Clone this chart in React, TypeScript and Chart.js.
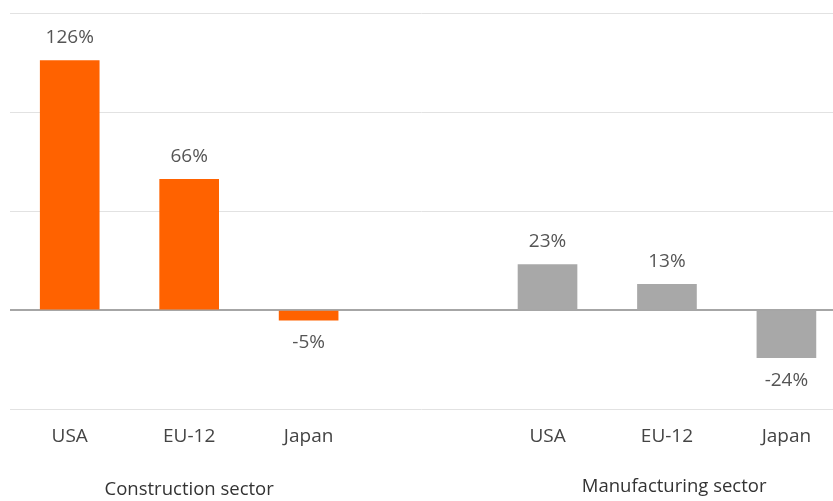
import React, { useEffect, useRef } from "react";
import { Chart, registerables } from "chart.js";

Chart.register(...registerables);

const categories = ["USA", "EU-12", "Japan", "", "USA", "EU-12", "Japan"];
const constructionIdx = [0, 1, 2];
const constructionValues = [126, 66, -5];
const manufacturingIdx = [4, 5, 6];
const manufacturingValues = [23, 13, -24];
const groupLabels = ["Construction sector", "Manufacturing sector"];
const groupCenters = [1, 5.06];
const yMin = -50;
const yMax = 150;
const yStep = 50;

const FONT = "'Open Sans', sans-serif";

export default function App() {
  const ref = useRef<HTMLCanvasElement | null>(null);

  useEffect(() => {
    document.body.style.margin = "0";
    const canvas = ref.current!;
    const labelPlugin = {
      id: "labels",
      afterDatasetsDraw(chart: any) {
        const ctx = chart.ctx;
        ctx.save();
        ctx.font = `19px ${FONT}`;
        ctx.fillStyle = "#555555";
        ctx.textAlign = "center";
        ctx.textBaseline = "middle";
        chart.data.datasets.forEach((ds: any, di: number) => {
          const meta = chart.getDatasetMeta(di);
          meta.data.forEach((bar: any, i: number) => {
            const v = ds.data[i].y;
            const y = v >= 0 ? bar.y - 23 : bar.y + 23;
            ctx.fillText(`${v}%`, bar.x, y);
          });
        });
        const xs = chart.scales.x;
        ctx.font = `18.5px ${FONT}`;
        ctx.fillStyle = "#333333";
        groupLabels.forEach((g, i) => {
          ctx.fillText(g, xs.getPixelForValue(groupCenters[i]), i === 0 ? 490 : 487);
        });
        ctx.restore();
      },
    };

    const chart = new Chart(canvas, {
      type: "bar",
      data: {
        datasets: [
          {
            label: "Construction sector",
            data: constructionIdx.map((x, i) => ({ x, y: constructionValues[i] })),
            backgroundColor: "#FF6200",
            barThickness: 59,
            grouped: false,
          } as any,
          {
            label: "Manufacturing sector",
            data: manufacturingIdx.map((x, i) => ({ x, y: manufacturingValues[i] })),
            backgroundColor: "#A8A8A8",
            barThickness: 59,
            grouped: false,
          } as any,
        ],
      },
      options: {
        animation: false,
        responsive: false,
        maintainAspectRatio: false,
        layout: { padding: { left: 10, right: 0, top: 13, bottom: 37 } },
        plugins: { legend: { display: false }, tooltip: { enabled: false } },
        scales: {
          x: {
            type: "linear",
            offset: false,
            min: -0.5,
            max: 6.39,
            afterBuildTicks: (scale: any) => {
              scale.ticks = categories.map((_, i) => ({ value: i }));
            },
            ticks: {
              autoSkip: false,
              maxRotation: 0,
              padding: 16,
              font: { family: FONT, size: 19 },
              color: "#444444",
              callback: (v: any) => categories[v as number] ?? "",
            },
            grid: { display: false, drawTicks: false },
            border: { display: false },
          },
          y: {
            min: yMin,
            max: yMax,
            ticks: { display: false, stepSize: yStep },
            grid: {
              drawTicks: false,
              color: (c: any) => (c.tick && c.tick.value === 0 ? "#A6A6A6" : "#E2E2E2"),
              lineWidth: (c: any) => (c.tick && c.tick.value === 0 ? 2 : 1),
            },
            border: { display: false },
          },
        },
      },
      plugins: [labelPlugin],
    });
    return () => chart.destroy();
  }, []);

  return (
    <div style={{ position: "fixed", left: 0, top: 0, width: 833, height: 501 }}>
      <canvas ref={ref} width={833} height={501} style={{ display: "block" }} />
    </div>
  );
}
